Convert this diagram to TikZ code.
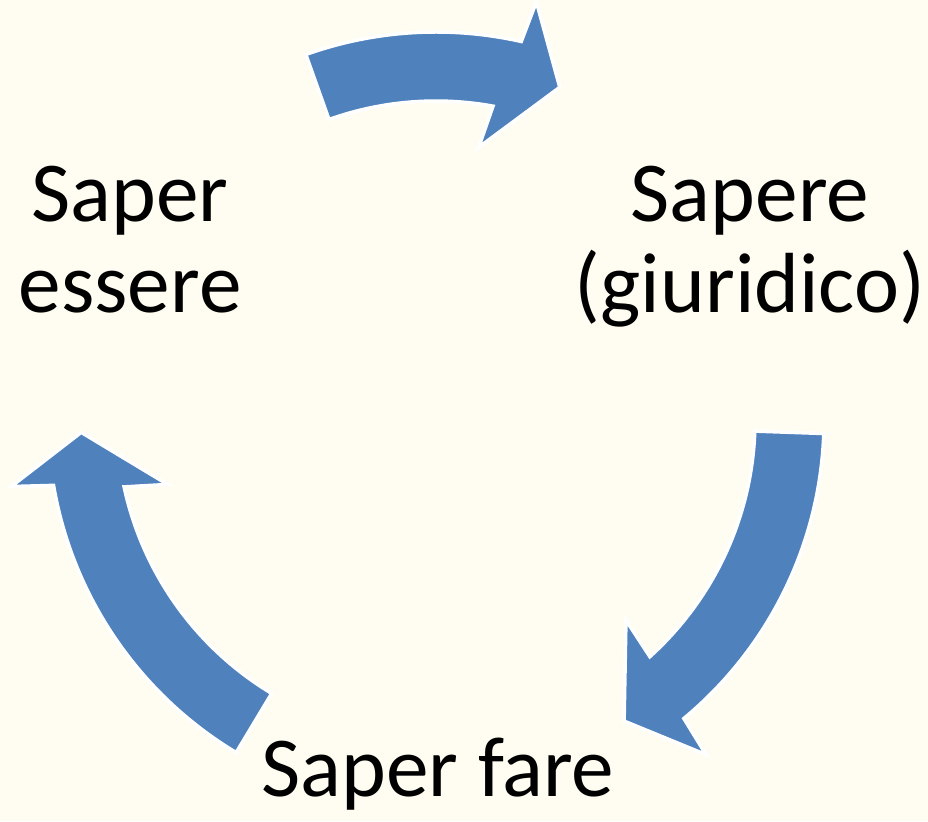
\documentclass[tikz,border=0pt]{standalone}
\usepackage{fontspec}
\setmainfont{Carlito}
\definecolor{bgcream}{RGB}{255,253,241}
\definecolor{arrowblue}{RGB}{79,129,189}
\begin{document}
\begin{tikzpicture}[x=0.75pt,y=0.75pt,
  cyclearrow/.style={fill=arrowblue,draw=white,line width=2.6pt,line join=miter},
  label/.style={align=center,anchor=base,inner sep=0pt,
    font=\fontsize{64pt}{68.25pt}\selectfont,text=black}]
\fill[bgcream] (0,0) rectangle (928,821);
\useasboundingbox (0,0) rectangle (928,821);
\def\Ro{388}\def\Ri{319}\def\Rt{355}\def\Rbo{430}\def\Rbi{276}
% arrows: tail angle s, tip angle t (clockwise)
\begin{scope}[shift={(436,401)}]
\foreach \s/\t/\nm in {109.6/69.6/top, -2/-58/right, 239/182/left}{
  \draw[cyclearrow] (\s:\Ro)
    arc[start angle=\s, end angle=\t+7.7, radius=\Ro]
    -- (\t+6.9:\Rbo) -- (\t:\Rt) -- (\t+11.5:\Rbi) -- (\t+10.1:\Ri)
    arc[start angle=\t+10.1, end angle=\s, radius=\Ri] -- cycle;
}
\end{scope}
\node[label] (essere) at (130,508) {Saper\\essere};
\node[label] (sapere) at (750,508) {Sapere\\(giuridico)};
\node[label] (fare) at (438,24) {Saper fare};
\end{tikzpicture}
\end{document}
